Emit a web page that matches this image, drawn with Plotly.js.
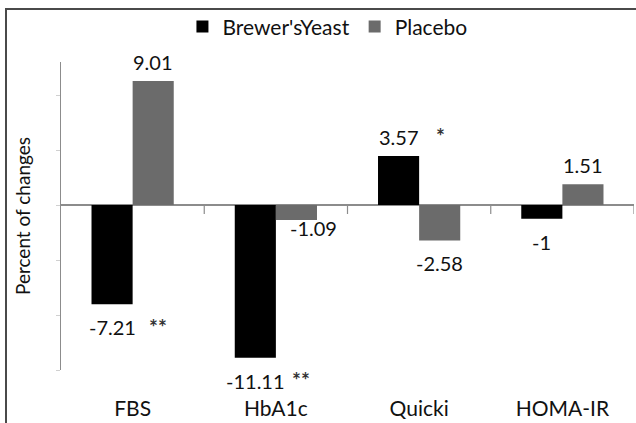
<!DOCTYPE html>
<html>
<head>
<meta charset="utf-8">
<script src="https://cdn.plot.ly/plotly-3.0.1.min.js"></script>
<style>
  html, body { margin: 0; padding: 0; background: #fff; }
  #wrap { position: relative; width: 636px; height: 423px; }
  #chart { width: 636px; height: 423px; }
  #frame { position: absolute; left: 5px; top: 8px; right: -10px; bottom: -10px;
           border-left: 2px solid #4a4a4a; border-top: 2px solid #4a4a4a; pointer-events: none; }
</style>
</head>
<body>
<div id="wrap">
  <div id="chart"></div>
  <div id="frame"></div>
</div>
<script>
// ---- data ----
const categories = ['FBS', 'HbA1c', 'Quicki', 'HOMA-IR'];
const brewersYeast = [-7.21, -11.11, 3.57, -1];
const placebo = [9.01, -1.09, -2.58, 1.51];
const significance = ['**', '**', '*', ''];
const seriesNames = ["Brewer'sYeast", 'Placebo'];

// ---- style ----
const colors = ['#000000', '#6b6b6b'];
const FONT = 'Lato, "Open Sans", sans-serif';
const barHalf = 20.5;           // pixel offset of each bar center from category center
const labelNudge = { 'HbA1c|1': { dx: 17, dy: 15 } };

const traces = [brewersYeast, placebo].map((vals, s) => ({
  type: 'bar',
  name: seriesNames[s],
  x: categories,
  y: vals,
  marker: { color: colors[s], line: { width: 0 } },
  hoverinfo: 'none'
}));

const annotations = [];
[brewersYeast, placebo].forEach((vals, s) => {
  vals.forEach((v, i) => {
    const n = labelNudge[categories[i] + '|' + s] || { dx: 0, dy: 0 };
    const xs = (s === 0 ? -barHalf : barHalf) + n.dx;
    const ys = (v >= 0 ? 19 : -23) + n.dy;
    annotations.push({
      x: categories[i], y: v, xref: 'x', yref: 'y',
      xshift: xs, yshift: ys, xanchor: 'center', yanchor: 'middle',
      text: String(v), showarrow: false,
      font: { family: FONT, size: 20, color: '#111' }
    });
    if (s === 0 && significance[i]) {
      annotations.push({
        x: categories[i], y: v, xref: 'x', yref: 'y',
        xshift: xs + 35, yshift: ys + 1, xanchor: 'left', yanchor: 'middle',
        text: '<b>' + significance[i] + '</b>', showarrow: false,
        font: { family: FONT, size: 21, color: '#333' }
      });
    }
  });
});

// small ticks on the zero line at category boundaries
const shapes = categories.map((c, i) => ({
  type: 'line', xref: 'x', yref: 'y',
  x0: i + 0.5, x1: i + 0.5,
  ysizemode: 'pixel', yanchor: 0, y0: 0, y1: -9,
  line: { color: '#8c8c8c', width: 1.2 }
}));

const layout = {
  width: 636, height: 423,
  margin: { l: 61, r: 2, t: 62, b: 53 },
  paper_bgcolor: '#fff', plot_bgcolor: '#fff',
  barmode: 'group', bargap: 0.426, bargroupgap: 0,
  showlegend: true,
  legend: {
    orientation: 'h', x: 0.465, xref: 'paper', xanchor: 'center',
    y: 0.985, yref: 'container', yanchor: 'top',
    font: { family: FONT, size: 21, color: '#111' },
    itemwidth: 30, traceorder: 'normal'
  },
  xaxis: {
    type: 'category', range: [-0.5, 3.5],
    showline: false, ticks: '', showgrid: false, zeroline: false,
    ticklabelstandoff: 24,
    tickfont: { family: FONT, size: 21, color: '#111' }
  },
  yaxis: {
    range: [-12, 10.4], dtick: 4, tick0: 0,
    showline: true, linecolor: '#8c8c8c', linewidth: 1.2,
    ticks: 'outside', ticklen: 4, tickcolor: '#d0d0d0', tickwidth: 1,
    showticklabels: false, showgrid: false,
    zeroline: true, zerolinecolor: '#8c8c8c', zerolinewidth: 1.5,
    title: { text: 'Percent of changes', standoff: 20,
             font: { family: FONT, size: 19, color: '#111' } }
  },
  annotations: annotations,
  shapes: shapes
};

Plotly.newPlot('chart', traces, layout, { displayModeBar: false, staticPlot: true });
</script>
</body>
</html>
